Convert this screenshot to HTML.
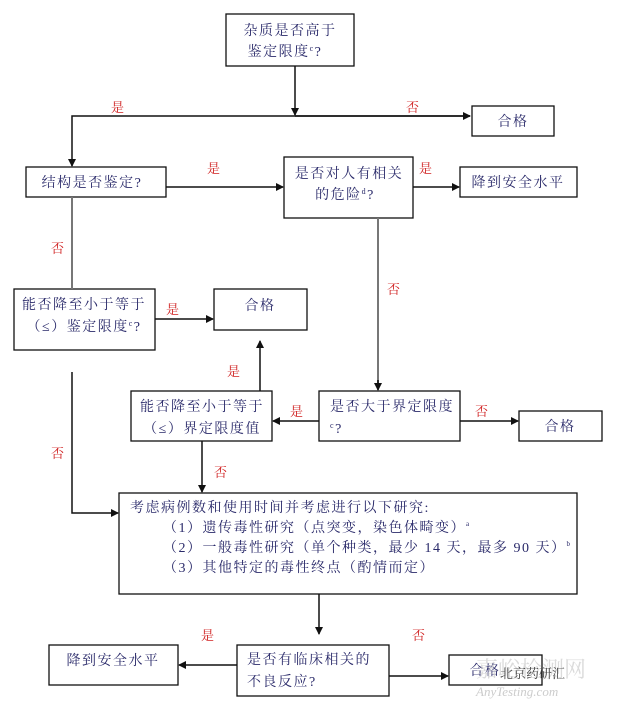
<!DOCTYPE html>
<html><head><meta charset="utf-8"><style>
html,body{margin:0;padding:0;background:#fff;}
svg{display:block;}
text{font-family:"Liberation Serif","Noto Serif CJK SC","Noto Sans CJK SC",serif;}
.t{fill:#2a2a6a;font-size:14px;letter-spacing:1.5px;}
.r{fill:#d02020;font-size:13px;}
.b{fill:#fff;stroke:#111;stroke-width:1.3;}
.l{stroke:#111;stroke-width:1.5;fill:none;}
.g{stroke:#777;stroke-width:2;fill:none;}
</style></head><body>
<svg width="624" height="703" viewBox="0 0 624 703" xmlns="http://www.w3.org/2000/svg">
<defs><marker id="a" markerWidth="8" markerHeight="8" refX="7" refY="4" orient="auto" markerUnits="userSpaceOnUse"><path d="M0,0 L8,4 L0,8 z" fill="#111"/></marker></defs>

<!-- boxes -->
<rect class="b" x="226" y="14" width="128" height="52"/>
<text class="t" x="290" y="35" text-anchor="middle">杂质是否高于</text>
<text class="t" x="285" y="56" text-anchor="middle">鉴定限度<tspan font-size="8" dy="-5">c</tspan><tspan dy="5">?</tspan></text>

<rect class="b" x="472" y="106" width="82" height="30"/>
<text class="t" x="513" y="126" text-anchor="middle">合格</text>

<rect class="b" x="26" y="167" width="140" height="30"/>
<text class="t" x="92" y="187" text-anchor="middle">结构是否鉴定?</text>

<rect class="b" x="284" y="157" width="129" height="61"/>
<text class="t" x="349" y="178" text-anchor="middle">是否对人有相关</text>
<text class="t" x="345" y="199" text-anchor="middle">的危险<tspan font-size="8" dy="-5">d</tspan><tspan dy="5">?</tspan></text>

<rect class="b" x="460" y="167" width="117" height="30"/>
<text class="t" x="518" y="187" text-anchor="middle">降到安全水平</text>

<rect class="b" x="14" y="289" width="141" height="61"/>
<text class="t" x="84" y="309" text-anchor="middle">能否降至小于等于</text>
<text class="t" x="84" y="331" text-anchor="middle">（≤）鉴定限度<tspan font-size="8" dy="-5">c</tspan><tspan dy="5">?</tspan></text>

<rect class="b" x="214" y="289" width="93" height="41"/>
<text class="t" x="260" y="310" text-anchor="middle">合格</text>

<rect class="b" x="131" y="391" width="141" height="50"/>
<text class="t" x="202" y="411" text-anchor="middle">能否降至小于等于</text>
<text class="t" x="202" y="433" text-anchor="middle">（≤）界定限度值</text>

<rect class="b" x="319" y="391" width="141" height="50"/>
<text class="t" x="330" y="411">是否大于界定限度</text>
<text class="t" x="330" y="433"><tspan font-size="8" dy="-5">c</tspan><tspan dy="5">?</tspan></text>

<rect class="b" x="519" y="411" width="83" height="30"/>
<text class="t" x="560" y="431" text-anchor="middle">合格</text>

<rect class="b" x="119" y="493" width="458" height="101"/>
<text class="t" x="130" y="512">考虑病例数和使用时间并考虑进行以下研究:</text>
<text class="t" x="163" y="532">（1）遗传毒性研究（点突变，染色体畸变）<tspan font-size="7" dy="-6">a</tspan></text>
<text class="t" x="163" y="552">（2）一般毒性研究（单个种类，最少 14 天，最多 90 天）<tspan font-size="7" dy="-6">b</tspan></text>
<text class="t" x="163" y="572">（3）其他特定的毒性终点（酌情而定）</text>

<rect class="b" x="49" y="645" width="129" height="40"/>
<text class="t" x="113" y="665" text-anchor="middle">降到安全水平</text>

<rect class="b" x="237" y="645" width="152" height="51"/>
<text class="t" x="247" y="664">是否有临床相关的</text>
<text class="t" x="247" y="686">不良反应?</text>

<rect class="b" x="449" y="655" width="93" height="30"/>
<text class="t" x="485" y="675" text-anchor="middle">合格</text>

<!-- connectors -->
<line class="l" x1="295" y1="66" x2="295" y2="115" marker-end="url(#a)"/>
<polyline class="l" points="470,116 72,116 72,166" marker-end="url(#a)"/>
<line class="l" x1="295" y1="116" x2="470" y2="116" marker-end="url(#a)"/>
<line class="l" x1="166" y1="187" x2="283" y2="187" marker-end="url(#a)"/>
<line class="l" x1="413" y1="187" x2="459" y2="187" marker-end="url(#a)"/>
<line class="g" x1="72" y1="197" x2="72" y2="289"/>
<line class="l" x1="155" y1="319" x2="213" y2="319" marker-end="url(#a)"/>
<line class="g" x1="378" y1="218" x2="378" y2="385"/>
<line class="l" x1="378" y1="380" x2="378" y2="390" marker-end="url(#a)"/>
<line class="l" x1="260" y1="391" x2="260" y2="341" marker-end="url(#a)"/>
<line class="l" x1="319" y1="421" x2="273" y2="421" marker-end="url(#a)"/>
<line class="l" x1="460" y1="421" x2="518" y2="421" marker-end="url(#a)"/>
<line class="l" x1="202" y1="441" x2="202" y2="492" marker-end="url(#a)"/>
<polyline class="l" points="72,372 72,513 118,513" marker-end="url(#a)"/>
<line class="l" x1="319" y1="594" x2="319" y2="634" marker-end="url(#a)"/>
<line class="l" x1="237" y1="665" x2="179" y2="665" marker-end="url(#a)"/>
<line class="l" x1="389" y1="676" x2="448" y2="676" marker-end="url(#a)"/>

<!-- labels -->
<text class="r" x="111" y="112">是</text>
<text class="r" x="406" y="112">否</text>
<text class="r" x="207" y="173">是</text>
<text class="r" x="419" y="173">是</text>
<text class="r" x="51" y="253">否</text>
<text class="r" x="166" y="314">是</text>
<text class="r" x="387" y="294">否</text>
<text class="r" x="227" y="376">是</text>
<text class="r" x="290" y="416">是</text>
<text class="r" x="475" y="416">否</text>
<text class="r" x="214" y="477">否</text>
<text class="r" x="51" y="458">否</text>
<text class="r" x="201" y="640">是</text>
<text class="r" x="412" y="640">否</text>

<!-- watermark -->
<text x="476" y="677" font-size="22" fill="#ccc" opacity="0.7" font-family="Noto Sans CJK SC,sans-serif">嘉峪检测网</text>
<text x="500" y="678" font-size="13" fill="#444" font-family="Noto Sans CJK SC,sans-serif">北京药研汇</text>
<text x="476" y="696" font-size="13" fill="#ccc" font-style="italic" font-family="Liberation Sans,sans-serif">AnyTesting.com</text>
</svg>
</body></html>
